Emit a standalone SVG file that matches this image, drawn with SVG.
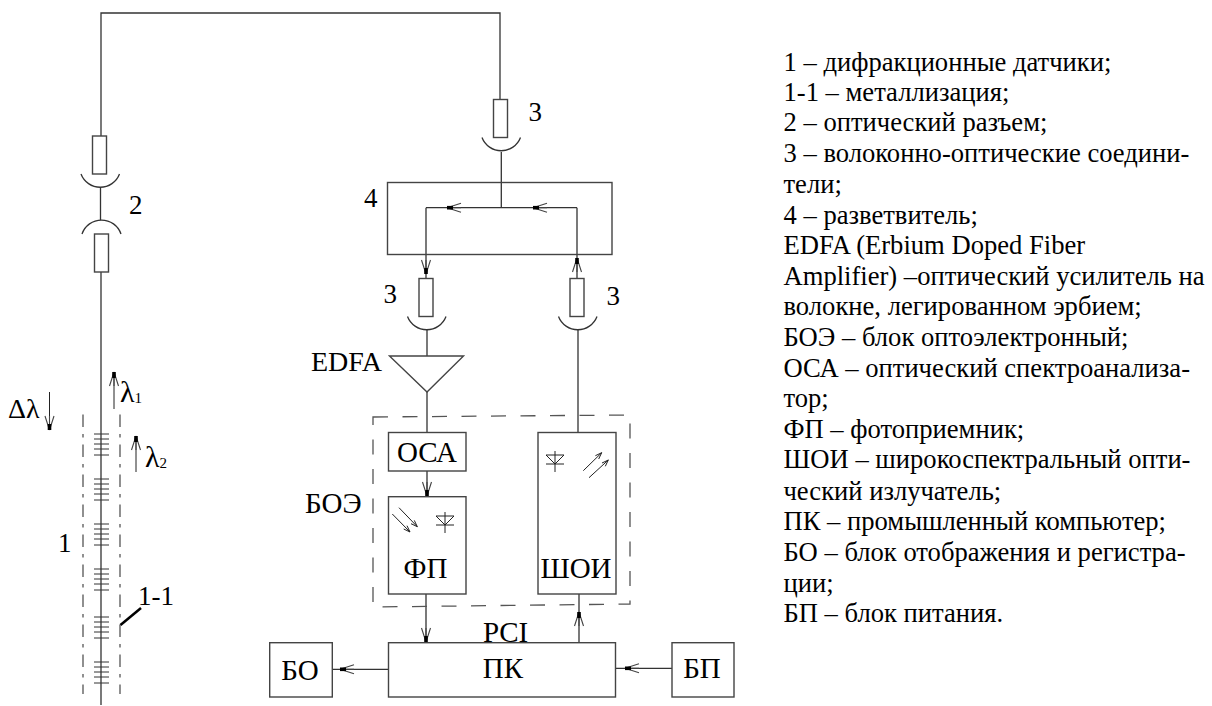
<svg xmlns="http://www.w3.org/2000/svg" width="1212" height="706" viewBox="0 0 1212 706">
<style>
text{font-family:"Liberation Serif","Times New Roman",serif;fill:#000}
.l{font-size:26.6px}
.n{font-size:29px}
.d{font-size:27px}
.line{fill:none;stroke:#333;stroke-width:1.3}
.box{fill:none;stroke:#444;stroke-width:1.4}
.thin{fill:none;stroke:#222;stroke-width:1}
.dd{fill:none;stroke:#555;stroke-width:1.3;stroke-dasharray:12.5 7 3.5 7}
.dash{fill:none;stroke:#555;stroke-width:1.3;stroke-dasharray:15 14.5}
</style>
<defs>
<g id="ar"><path d="M0 0L14 0M0 0L14-4.500M0 0L14 4.500" fill="none" stroke="#444" stroke-width="1.100"/><path d="M0-1.800H6V1.800H0Z" fill="#000"/></g>
<g id="gr"><path d="M-7.500 0H7.500M-7.500 5H7.500M-7.500 10H7.500M-7.500 15H7.500M-7.500 21H7.500" fill="none" stroke="#333" stroke-width="1"/></g>
<g id="diode"><path d="M-9 9H9M0-4V17M-9 0H9L0 9Z" class="thin"/></g>
</defs>
<g id="connectors">
<path class="line" d="M101 136V13H500V99M100.500 188V220M101 272V705M501.300 152V207.700M426 207.700H577M426 207.700V278M577 207.700V278M427 330V356M427 392V432M578 330V432M427 471V496M426 594V642M579 594V642M332 669.300H388M616 668.300H672"/>
<path class="dd" d="M83 414.500V694M120 414.500V694"/>
<path d="M120.500 625L141 608" fill="none" stroke="#000" stroke-width="2.500"/>
<path class="thin" d="M114 372V409M136 436V472M49.500 392V430"/>
<use href="#ar" transform="translate(114 372) rotate(90)"/>
<use href="#ar" transform="translate(136 436) rotate(90)"/>
<use href="#ar" transform="translate(49.500 430) rotate(-90)"/>
<use href="#ar" transform="translate(447 207.700)"/>
<use href="#ar" transform="translate(533 207.700)"/>
<use href="#ar" transform="translate(426 274) rotate(-90)"/>
<use href="#ar" transform="translate(577 258) rotate(90)"/>
<use href="#ar" transform="translate(427 496) rotate(-90)"/>
<use href="#ar" transform="translate(426 642) rotate(-90)"/>
<use href="#ar" transform="translate(579 612) rotate(90)"/>
<use href="#ar" transform="translate(340 669.300)"/>
<use href="#ar" transform="translate(625 668.300)"/>
</g>
<g id="gratings">
<use href="#gr" x="101.500" y="434"/><use href="#gr" x="101.500" y="479"/><use href="#gr" x="101.500" y="524"/><use href="#gr" x="101.500" y="569"/><use href="#gr" x="101.500" y="617"/><use href="#gr" x="101.500" y="662"/>
</g>
<g id="connector-2">
<rect class="box" x="92.500" y="136" width="14" height="38"/>
<path class="line" d="M81 174A20.600 20.600 0 0 0 119.500 174"/>
<path class="line" d="M82 234A20.600 20.600 0 0 1 121 234"/>
<rect class="box" x="94.500" y="234" width="14" height="38"/>
</g>
<g id="connector-3a">
<rect class="box" x="493.500" y="99.500" width="14" height="38"/>
<path class="line" d="M482 137.500A20.600 20.600 0 0 0 520.500 137.500"/>
</g>
<g id="connector-3b">
<rect class="box" x="419" y="278.500" width="14" height="38"/>
<path class="line" d="M407.500 316.500A20.600 20.600 0 0 0 446 316.500"/>
</g>
<g id="connector-3c">
<rect class="box" x="570" y="278.500" width="14" height="38"/>
<path class="line" d="M558.500 316.500A20.600 20.600 0 0 0 597 316.500"/>
</g>
<g id="splitter"><rect class="box" x="387.500" y="182.500" width="224.500" height="72"/></g>
<g id="edfa"><path class="box" d="M389.500 356H463.500L427 392Z"/></g>
<g id="boe"><path class="dash" d="M373 417L630 415V604L373 607Z"/></g>
<g id="osa"><rect class="box" x="388.500" y="432.500" width="77.500" height="38.500"/><text class="n" x="427" y="461.500" text-anchor="middle">ОСА</text></g>
<g id="fp"><rect class="box" x="388.500" y="496.700" width="77.500" height="97.300"/>
<path class="thin" d="M392.300 514L410 532M399 507.700L417.300 526.700M403.700 529L410 532L407 525.700M411 523.700L417.300 526.700L414.300 520.400"/>
<use href="#diode" x="445" y="516"/>
<text class="n" x="425.500" y="578" text-anchor="middle">ФП</text></g>
<g id="shoi"><rect class="box" x="538" y="432.500" width="78" height="161.500"/>
<use href="#diode" x="555" y="455"/>
<path class="thin" d="M583.300 470.700L601.700 452.700M589 477.700L608.300 460M595.400 455.700L601.700 452.700L598.700 459M602 463L608.300 460L605.300 466.300"/>
<text class="n" x="576" y="578" text-anchor="middle">ШОИ</text></g>
<g id="pk"><rect class="box" x="388.500" y="642.700" width="227" height="54.300"/><text class="n" x="503" y="678" text-anchor="middle">ПК</text></g>
<g id="bo"><rect class="box" x="269.700" y="642.700" width="62.600" height="54.300"/><text class="n" x="300" y="680" text-anchor="middle">БО</text></g>
<g id="bp"><rect class="box" x="672" y="642.700" width="62" height="54.300"/><text class="n" x="702" y="678" text-anchor="middle">БП</text></g>
<g id="labels">
<text class="d" x="129" y="214">2</text>
<text class="d" x="528.500" y="120.500">3</text>
<text class="d" x="364" y="207">4</text>
<text class="d" x="383.500" y="302.500">3</text>
<text class="d" x="606.500" y="305">3</text>
<text class="n" x="311" y="371" style="font-size:28px">EDFA</text>
<text class="n" x="305" y="513">БОЭ</text>
<text class="n" x="483" y="642">PCI</text>
<text class="d" x="58" y="552">1</text>
<text class="d" x="138" y="605">1-1</text>
<text x="8" y="418" style="font-size:28px">Δλ</text>
<text x="120" y="402" style="font-size:30px">λ<tspan dy="1" style="font-size:15px">1</tspan></text>
<text x="145" y="467" style="font-size:30px">λ<tspan dy="1" style="font-size:15px">2</tspan></text>
</g>
<g id="legend">
<text class="l" x="783.500" y="70.500">1 – дифракционные датчики;</text>
<text class="l" x="783.500" y="101">1-1 – металлизация;</text>
<text class="l" x="783.500" y="131">2 – оптический разъем;</text>
<text class="l" x="783.500" y="162">3 – волоконно-оптические соедини-</text>
<text class="l" x="783.500" y="193">тели;</text>
<text class="l" x="783.500" y="224">4 – разветвитель;</text>
<text class="l" x="783.500" y="254">EDFA (Erbium Doped Fiber</text>
<text class="l" x="783.500" y="285">Amplifier) –оптический усилитель на</text>
<text class="l" x="783.500" y="315">волокне, легированном эрбием;</text>
<text class="l" x="783.500" y="346">БОЭ – блок оптоэлектронный;</text>
<text class="l" x="783.500" y="377">ОСА – оптический спектроанализа-</text>
<text class="l" x="783.500" y="407">тор;</text>
<text class="l" x="783.500" y="438">ФП – фотоприемник;</text>
<text class="l" x="783.500" y="468">ШОИ – широкоспектральный опти-</text>
<text class="l" x="783.500" y="500">ческий излучатель;</text>
<text class="l" x="783.500" y="530">ПК – промышленный компьютер;</text>
<text class="l" x="783.500" y="561">БО – блок отображения и регистра-</text>
<text class="l" x="783.500" y="592">ции;</text>
<text class="l" x="783.500" y="622">БП – блок питания.</text>
</g>
</svg>
